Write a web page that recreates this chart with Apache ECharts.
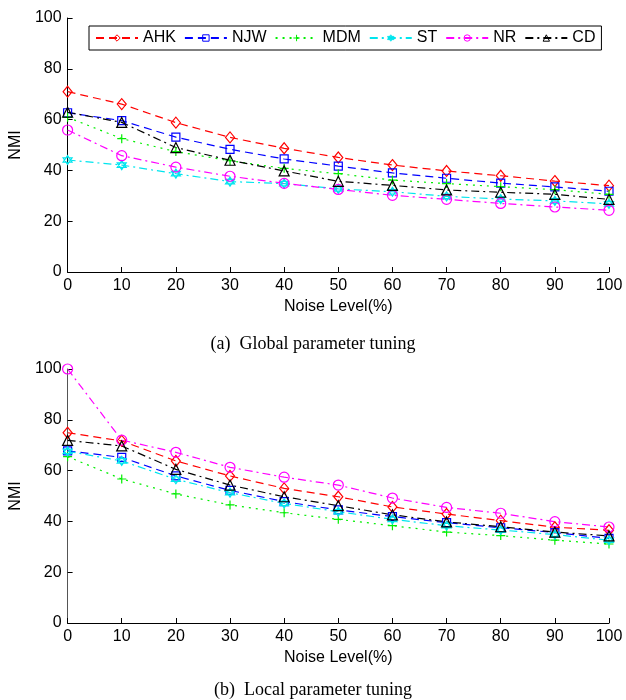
<!DOCTYPE html>
<html>
<head>
<meta charset="utf-8">
<script src="https://cdn.jsdelivr.net/npm/echarts@6/dist/echarts.min.js"></script>
<style>
  html, body { margin: 0; padding: 0; background: #fff; }
  #main { width: 626px; height: 700px; }
</style>
</head>
<body>
<div id="main"></div>
<script>
// noise levels on the x axis
var noise = [0, 10, 20, 30, 40, 50, 60, 70, 80, 90, 100]
var names = ['AHK', 'NJW', 'MDM', 'ST', 'NR', 'CD']

// (a) global parameter tuning
var globalAHK = [71, 66.1, 58.8, 53, 48.7, 45.1, 42.1, 39.8, 37.9, 35.8, 34]
var globalNJW = [62.7, 59.6, 53.1, 48.3, 44.5, 41.7, 39, 36.9, 35, 33.5, 31.8]
var globalMDM = [60.9, 52.5, 47.4, 43.8, 40.8, 38.7, 36.2, 34.8, 33.6, 32.4, 30.6]
var globalST = [44.1, 42.1, 38.7, 35.6, 34.8, 32.7, 31.6, 29.8, 28.7, 28, 26.8]
var globalNR = [55.9, 45.8, 41.3, 37.7, 34.9, 32.5, 30.2, 28.6, 27, 25.6, 24.3]
var globalCD = [62.9, 58.9, 49, 44, 39.8, 35.7, 34.1, 32.3, 31.4, 30.6, 28.6]

// (b) local parameter tuning
var localAHK = [74.9, 71.7, 63.8, 57.9, 53, 49.7, 45.7, 42.9, 40.3, 37.7, 36.5]
var localNJW = [67.8, 65.2, 57.9, 52.2, 47.8, 44.5, 41.9, 39.5, 37.5, 35.6, 33.3]
var localMDM = [65.5, 56.7, 50.8, 46.5, 43.4, 40.8, 38.3, 35.8, 34.4, 32.6, 31.1]
var localST = [67.6, 63.8, 56.6, 51.3, 47.1, 43.8, 40.8, 38.3, 36.6, 34.8, 32.6]
var localNR = [100, 72, 67.2, 61.3, 57.4, 54.3, 49.2, 45.5, 43.2, 39.9, 37.8]
var localCD = [71.9, 69.7, 60.5, 54.3, 49.7, 46.2, 42.6, 39.8, 37.9, 35.8, 34.3]

var FONT = 'Liberation Sans'
var dashDot = [8, 4, 2, 4]

// 每条曲线的样式
var styles = {
  AHK: { color: '#ff0000', dash: [8, 5], symbol: 'diamond', size: [9, 11] },
  NJW: { color: '#0000ff', dash: [8, 5], symbol: 'rect', size: 8 },
  MDM: { color: '#00ee00', dash: [2, 5], symbol: 'path://M0,5L10,5M5,0L5,10', size: 9 },
  ST: { color: '#00e5ee', dash: dashDot, symbol: 'path://M5,0L9.33,7.5L0.67,7.5Z M5,10L0.67,2.5L9.33,2.5Z', size: 9 },
  NR: { color: '#ff00ff', dash: dashDot, symbol: 'circle', size: 10 },
  CD: { color: '#000000', dash: dashDot, symbol: 'triangle', size: 10 }
}

function zip(vals) {
  return noise.map(function (x, i) { return [x, vals[i]] })
}

function makeSeries(name, vals, idx) {
  var s = styles[name]
  return {
    name: name,
    type: 'line',
    xAxisIndex: idx,
    yAxisIndex: idx,
    data: zip(vals),
    symbol: s.symbol,
    symbolSize: s.size,
    showAllSymbol: true,
    animation: false,
    lineStyle: { color: s.color, width: 1.2, type: s.dash },
    itemStyle: { color: 'rgba(0,0,0,0)', borderColor: s.color, borderWidth: 1.2 },
    emphasis: { disabled: true }
  }
}

function xAxis(idx) {
  return {
    type: 'value', gridIndex: idx, min: 0, max: 100, interval: 10,
    name: 'Noise Level(%)', nameLocation: 'middle', nameGap: 27,
    nameTextStyle: { fontFamily: FONT, fontSize: 16, color: '#000' },
    axisLine: { lineStyle: { color: '#000', width: 1 } },
    axisTick: { inside: true, length: 5, lineStyle: { color: '#000' } },
    axisLabel: { fontFamily: FONT, fontSize: 16, color: '#000', margin: 6 },
    splitLine: { show: false }
  }
}

function yAxis(idx) {
  return {
    type: 'value', gridIndex: idx, min: 0, max: 100, interval: 20,
    name: 'NMI', nameLocation: 'middle', nameGap: 40,
    nameTextStyle: { fontFamily: FONT, fontSize: 16, color: '#000' },
    axisLine: { show: true, lineStyle: { color: idx ? '#555' : '#000', width: 1 } },
    axisTick: { show: true, inside: true, length: 5, lineStyle: { color: '#000' } },
    axisLabel: { fontFamily: FONT, fontSize: 16, color: '#000', margin: 6 },
    splitLine: { show: false }
  }
}

var series = [
  makeSeries('AHK', globalAHK, 0), makeSeries('NJW', globalNJW, 0), makeSeries('MDM', globalMDM, 0),
  makeSeries('ST', globalST, 0), makeSeries('NR', globalNR, 0), makeSeries('CD', globalCD, 0),
  makeSeries('AHK', localAHK, 1), makeSeries('NJW', localNJW, 1), makeSeries('MDM', localMDM, 1),
  makeSeries('ST', localST, 1), makeSeries('NR', localNR, 1), makeSeries('CD', localCD, 1)
]

var chart = echarts.init(document.getElementById('main'), null, { renderer: 'canvas' })
chart.setOption({
  backgroundColor: '#fff',
  animation: false,
  grid: [
    { left: 64, right: 17, top: 18, height: 254 },
    { left: 64, right: 17, top: 369, height: 254 }
  ],
  xAxis: [xAxis(0), xAxis(1)],
  yAxis: [yAxis(0), yAxis(1)],
  legend: {
    data: names,
    left: 89, top: 26,
    orient: 'horizontal',
    itemWidth: 42, itemHeight: 8, itemGap: 8,
    padding: [4, 6, 4, 6],
    borderColor: '#000', borderWidth: 1,
    backgroundColor: '#fff',
    selectedMode: false,
    itemStyle: { color: 'rgba(0,0,0,0)', borderColor: 'inherit', borderWidth: 1 },
    textStyle: { fontFamily: FONT, fontSize: 16, color: '#000' }
  },
  title: [
    { text: '(a)  Global parameter tuning', left: 'center', top: 330,
      textStyle: { fontFamily: 'Liberation Serif', fontSize: 18, fontWeight: 'normal', color: '#000' } },
    { text: '(b)  Local parameter tuning', left: 'center', top: 676,
      textStyle: { fontFamily: 'Liberation Serif', fontSize: 18, fontWeight: 'normal', color: '#000' } }
  ],
  series: series
})
</script>
</body>
</html>
